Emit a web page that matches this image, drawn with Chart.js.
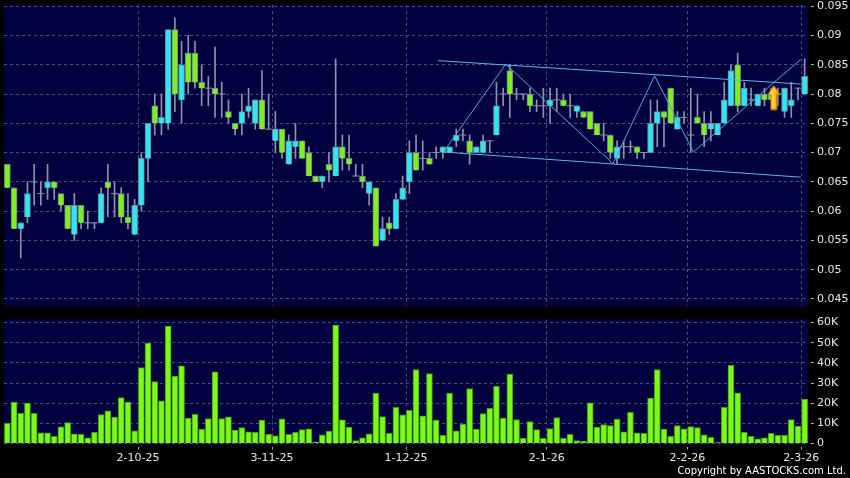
<!DOCTYPE html>
<html>
<head>
<meta charset="utf-8">
<script src="https://cdn.jsdelivr.net/npm/chart.js@4.4.1/dist/chart.umd.min.js"></script>
<style>
body { margin: 0; background: #000; width: 850px; height: 478px; overflow: hidden; position: relative; font-family: "DejaVu Sans", sans-serif; }
#pbox { position: absolute; left: 0; top: 0; }
#vbox { position: absolute; left: 0; top: 314px; }
#copy { position: absolute; right: 4px; top: 465px; color: #fff; font-size: 10px; }
</style>
</head>
<body>
<div id="pbox"><canvas id="price" width="850" height="312"></canvas></div>
<div id="vbox"><canvas id="vol" width="850" height="164"></canvas></div>
<div id="copy">Copyright by AASTOCKS.com Ltd.</div>
<script>
// daily OHLC (tick size 0.001)
var opens = [0.068,0.064,0.057,0.059,0.065,0.063,0.064,0.065,0.063,0.061,
  0.056,0.061,0.058,0.058,0.058,0.065,0.063,0.063,0.059,0.056,
  0.061,0.069,0.078,0.075,0.075,0.091,0.079,0.087,0.087,0.082,
  0.081,0.081,0.080,0.077,0.075,0.075,0.077,0.075,0.079,0.074,
  0.072,0.074,0.068,0.071,0.072,0.070,0.066,0.065,0.068,0.066,
  0.071,0.069,0.066,0.066,0.063,0.064,0.055,0.058,0.057,0.062,
  0.065,0.070,0.069,0.069,0.070,0.070,0.070,0.072,0.073,0.072,
  0.070,0.070,0.072,0.073,0.080,0.084,0.080,0.080,0.080,0.078,
  0.078,0.078,0.079,0.079,0.078,0.077,0.077,0.077,0.075,0.073,
  0.073,0.069,0.071,0.071,0.071,0.070,0.070,0.075,0.077,0.081,
  0.074,0.076,0.073,0.076,0.075,0.074,0.073,0.075,0.078,0.085,
  0.078,0.079,0.078,0.080,0.080,0.080,0.077,0.078,0.081,0.080]
var highs = [0.068,0.064,0.058,0.065,0.068,0.065,0.068,0.065,0.063,0.061,
  0.063,0.061,0.060,0.058,0.064,0.068,0.065,0.064,0.063,0.062,
  0.070,0.075,0.080,0.080,0.091,0.093,0.089,0.090,0.089,0.085,
  0.083,0.088,0.082,0.079,0.075,0.080,0.081,0.079,0.084,0.080,
  0.077,0.074,0.073,0.075,0.072,0.071,0.066,0.066,0.070,0.086,
  0.073,0.073,0.068,0.068,0.065,0.064,0.059,0.059,0.063,0.066,
  0.072,0.073,0.072,0.070,0.071,0.071,0.071,0.074,0.074,0.073,
  0.071,0.073,0.072,0.082,0.081,0.085,0.081,0.080,0.081,0.079,
  0.081,0.081,0.081,0.080,0.080,0.078,0.077,0.077,0.075,0.075,
  0.073,0.072,0.072,0.072,0.071,0.070,0.079,0.079,0.077,0.081,
  0.077,0.077,0.081,0.080,0.077,0.077,0.075,0.082,0.085,0.087,
  0.082,0.081,0.080,0.081,0.081,0.081,0.081,0.082,0.081,0.086]
var lows = [0.064,0.057,0.052,0.058,0.061,0.061,0.062,0.062,0.060,0.057,
  0.055,0.057,0.057,0.057,0.058,0.059,0.059,0.058,0.057,0.056,
  0.060,0.065,0.073,0.073,0.074,0.077,0.075,0.080,0.081,0.078,
  0.078,0.076,0.076,0.075,0.073,0.073,0.076,0.074,0.074,0.074,
  0.070,0.069,0.068,0.069,0.069,0.066,0.065,0.064,0.065,0.066,
  0.067,0.067,0.066,0.064,0.061,0.054,0.055,0.056,0.057,0.062,
  0.063,0.067,0.067,0.068,0.069,0.069,0.070,0.071,0.072,0.068,
  0.070,0.070,0.070,0.073,0.078,0.076,0.079,0.079,0.077,0.077,
  0.076,0.075,0.077,0.078,0.076,0.076,0.076,0.074,0.073,0.072,
  0.069,0.068,0.069,0.070,0.069,0.069,0.070,0.071,0.071,0.075,
  0.074,0.075,0.070,0.075,0.071,0.072,0.073,0.075,0.078,0.077,
  0.078,0.078,0.078,0.078,0.079,0.078,0.076,0.076,0.079,0.080]
var closes = [0.064,0.057,0.058,0.063,0.065,0.063,0.065,0.064,0.061,0.057,
  0.061,0.058,0.058,0.058,0.063,0.064,0.063,0.059,0.058,0.061,
  0.069,0.075,0.075,0.076,0.091,0.080,0.085,0.082,0.082,0.081,
  0.081,0.080,0.080,0.076,0.074,0.077,0.078,0.079,0.074,0.074,
  0.074,0.070,0.072,0.072,0.069,0.066,0.065,0.066,0.067,0.071,
  0.069,0.068,0.066,0.065,0.065,0.054,0.057,0.057,0.062,0.064,
  0.070,0.067,0.069,0.068,0.070,0.071,0.071,0.073,0.073,0.070,
  0.071,0.072,0.072,0.078,0.080,0.080,0.080,0.080,0.078,0.078,
  0.078,0.079,0.079,0.078,0.078,0.078,0.076,0.074,0.073,0.073,
  0.070,0.071,0.071,0.071,0.070,0.070,0.075,0.077,0.076,0.075,
  0.076,0.076,0.073,0.075,0.073,0.075,0.075,0.079,0.084,0.078,
  0.081,0.079,0.080,0.079,0.079,0.080,0.081,0.079,0.081,0.083]
var volumes = [10000,20500,15000,20000,15000,5300,5300,3600,8300,10400,
  4800,4600,2800,5500,14400,16200,13100,22800,20500,6300,
  37700,49800,30700,21200,58200,33400,38500,12600,14500,7100,
  12400,35500,12400,13200,6600,7900,5800,5500,11600,4600,
  3800,12200,4600,5600,6900,7300,700,4300,6100,58700,
  11700,8100,1500,2800,4800,25000,13400,5100,18000,14200,
  16500,36700,13700,34700,11600,4000,25000,6300,9600,27300,
  7100,14900,17500,28300,12600,34400,11900,2600,10900,6900,
  2600,7400,12900,2600,4500,1500,1200,20200,8100,9400,
  8900,12100,5800,15500,5300,5000,22500,36700,7100,3600,
  8900,7300,8400,7900,4300,3000,500,17900,38800,25100,
  5600,3600,2300,2800,5100,4100,4100,11900,8600,22000]

// x axis labels: bar index where each month label sits
var dateLabels = ['2-10-25', '3-11-25', '1-12-25', '2-1-26', '2-2-26', '2-3-26']
var dateIdx = [20, 40, 60, 81, 102, 119]
var priceTicks = [0.045, 0.05, 0.055, 0.06, 0.065, 0.07, 0.075, 0.08, 0.085, 0.09, 0.095]
var volTicks = [0, 10000, 20000, 30000, 40000, 50000, 60000]

// user drawn lines (bar index, price)
var channelTop = [[64.3, 0.0857], [118.4, 0.0817]]
var channelBottom = [[65.1, 0.0701], [118.4, 0.0658]]
var zigzag = [[65.1, 0.0701], [74.4, 0.0851], [90.4, 0.0681], [96.6, 0.0831], [102.4, 0.0701], [118.4, 0.0859]]
var signalPoint = [114.4, 0.0794]

var GREEN = '#7ff01e'
var CYAN = '#2fe6f2'
var WICK = '#8c93aa'
var GRIDC = '#4b4b86'
var TXT = '#e6e6e6'
var FONT = { family: 'DejaVu Sans', size: 11 }

var panelBg = {
  id: 'panelBg',
  beforeDraw: function(chart) {
    var a = chart.chartArea, c = chart.ctx
    c.save()
    c.fillStyle = '#00003e'
    c.fillRect(a.left, a.top, a.right - a.left, a.bottom - a.top)
    c.restore()
  }
}

function makeArrow() {
  var cv = document.createElement('canvas')
  cv.width = 14; cv.height = 26
  var g = cv.getContext('2d')
  g.beginPath()
  g.moveTo(7, 1); g.lineTo(13, 10); g.lineTo(10, 10); g.lineTo(10, 25)
  g.lineTo(4, 25); g.lineTo(4, 10); g.lineTo(1, 10); g.closePath()
  var gr = g.createLinearGradient(0, 0, 14, 0)
  gr.addColorStop(0, '#fff0a0'); gr.addColorStop(0.5, '#ffc828'); gr.addColorStop(1, '#e89a00')
  g.fillStyle = gr; g.fill()
  g.strokeStyle = '#b87400'; g.lineWidth = 1; g.stroke()
  return cv
}

var wicks = [], bodies = [], bodyColors = [], dojis = []
for (var i = 0; i < opens.length; i++) {
  wicks.push({ x: i, y: [lows[i], highs[i]] })
  if (opens[i] === closes[i]) {
    dojis.push({ x: i, y: opens[i] })
  } else {
    bodies.push({ x: i, y: [Math.min(opens[i], closes[i]), Math.max(opens[i], closes[i])] })
    bodyColors.push(closes[i] > opens[i] ? CYAN : GREEN)
  }
}
function pts(arr) { return arr.map(function(p) { return { x: p[0], y: p[1] } }) }
function noPad(s) { s.paddingTop = 0; s.paddingBottom = 0; s.paddingLeft = 0; s.paddingRight = 0 }

var xGrid = {
  type: 'linear', min: -0.5, max: 119.5, offset: false,
  afterBuildTicks: function(s) { s.ticks = dateIdx.map(function(v) { return { value: v - 0.5 } }) },
  border: { display: false, dash: [3, 3] },
  grid: { color: GRIDC, drawTicks: false, offset: false }
}

new Chart('price', {
  type: 'bar',
  data: {
    datasets: [
      { type: 'line', data: [{ x: signalPoint[0], y: signalPoint[1] }], pointStyle: makeArrow(), pointRadius: 10, showLine: false, order: 0 },
      { type: 'line', data: pts(channelTop), borderColor: '#63b4ea', borderWidth: 1, pointRadius: 0, order: 1 },
      { type: 'line', data: pts(channelBottom), borderColor: '#63b4ea', borderWidth: 1, pointRadius: 0, order: 1 },
      { type: 'line', data: pts(zigzag), borderColor: '#4ea6e0', borderWidth: 1, pointRadius: 0, order: 1 },
      { type: 'line', data: dojis, showLine: false, pointStyle: 'line', pointRadius: 3.5, pointBorderColor: WICK, pointBorderWidth: 1, order: 2 },
      { data: bodies, backgroundColor: bodyColors, borderColor: '#6f8494', borderWidth: 1, barThickness: 6, grouped: false, order: 3 },
      { data: wicks, backgroundColor: WICK, borderWidth: 0, barThickness: 1, grouped: false, order: 4 }
    ]
  },
  options: {
    responsive: false,
    animation: false,
    layout: { autoPadding: false, padding: { left: 4, top: 5, bottom: 6, right: 0 } },
    plugins: { legend: { display: false }, tooltip: { enabled: false } },
    scales: {
      x: Object.assign({}, xGrid, {
        ticks: { display: false },
        afterFit: function(s) { s.height = 0; noPad(s) }
      }),
      y: {
        position: 'right', min: 0.0438, max: 0.0952,
        afterBuildTicks: function(s) { s.ticks = priceTicks.map(function(v) { return { value: v } }) },
        afterFit: function(s) { s.width = 42; noPad(s) },
        border: { display: false, dash: [3, 3] },
        grid: { color: GRIDC, tickColor: '#b0b0b0', tickLength: 6, tickBorderDash: [0, 3, 3, 10] },
        ticks: { color: TXT, font: FONT, padding: 3, callback: function(v) { return String(+v.toFixed(3)) } }
      }
    }
  },
  plugins: [panelBg]
})

new Chart('vol', {
  type: 'bar',
  data: {
    datasets: [
      { data: volumes.map(function(v, i) { return { x: i, y: v } }), backgroundColor: '#7cf81a', borderColor: '#3f9a12', borderWidth: 1, barThickness: 6 }
    ]
  },
  options: {
    responsive: false,
    animation: false,
    layout: { autoPadding: false, padding: { left: 4, top: 5.5, bottom: 0, right: 0 } },
    plugins: { legend: { display: false }, tooltip: { enabled: false } },
    scales: {
      x: Object.assign({}, xGrid, {
        grid: { color: GRIDC, offset: false, tickColor: '#b0b0b0', tickLength: 6, tickBorderDash: [0, 3, 3, 10] },
        ticks: { color: TXT, font: FONT, padding: 2, maxRotation: 0, autoSkip: false,
          callback: function(v, k) { return dateLabels[k] } },
        afterFit: function(s) { s.height = 34.5; noPad(s) }
      }),
      y: {
        position: 'right', min: 0, max: 61500,
        afterBuildTicks: function(s) { s.ticks = volTicks.map(function(v) { return { value: v } }) },
        afterFit: function(s) { s.width = 42; noPad(s) },
        border: { display: false, dash: [3, 3] },
        grid: { color: GRIDC, tickColor: '#b0b0b0', tickLength: 6, tickBorderDash: [0, 3, 3, 10] },
        ticks: { color: TXT, font: FONT, padding: 3, callback: function(v) { return v === 0 ? '0' : (v / 1000) + 'K' } }
      }
    }
  },
  plugins: [panelBg]
})
</script>
</body>
</html>
